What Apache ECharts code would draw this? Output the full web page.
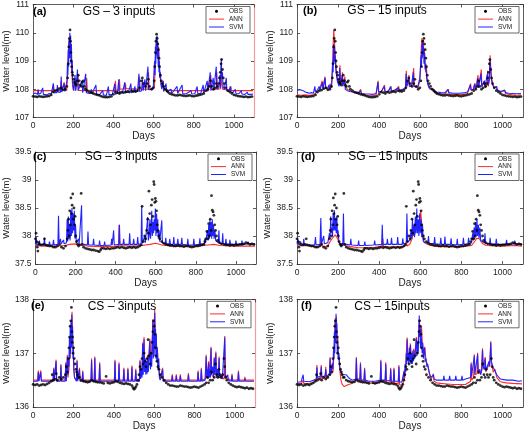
<!DOCTYPE html>
<html><head><meta charset="utf-8">
<script src="https://cdn.jsdelivr.net/npm/echarts@6/dist/echarts.min.js"></script>
<style>html,body{margin:0;padding:0;background:#fff}#c{width:529px;height:432px}</style>
</head><body><div id="c"></div>
<script>
// ---------- data ([day, water level]) ----------
const panelLetters = ['(a)','(b)','(c)','(d)','(e)','(f)'];
const panelTitles = ['GS – 3 inputs','GS – 15 inputs','SG – 3 inputs','SG – 15 inputs','CS – 3inputs','CS – 15inputs'];
const yMins = [107,107,37.5,37.5,136,136];
const yMaxs = [111,111,39.5,39.5,138,138];
const yIntervals = [1,1,0.5,0.5,1,1];
const xTicks = [0,200,400,600,800,1000];
const seriesNames = ['OBS','ANN','SVM'];

const obsGS = [[0,107.75],[10,107.74],[20,107.73],[30,107.75],[40,107.74],[50,107.73],[60,107.74],[70,107.75],[80,107.76],[90,107.8],[100,107.9],[110,107.95],[120,107.97],[130,108.02],[140,108.05],[150,107.98],[160,108.0],[168,108.1],[172,108.4],[175,108.9],[178,109.5],[181,109.8],[184,110.1],[186,109.7],[188,109.3],[190,109.0],[192,108.8],[195,108.6],[198,108.5],[202,108.35],[206,108.25],[210,108.2],[215,108.15],[220,108.3],[225,108.5],[230,108.3],[235,108.15],[240,108.1],[245,108.25],[250,108.3],[255,108.1],[260,108.0],[270,107.95],[280,107.9],[290,107.88],[300,107.85],[310,107.82],[320,107.8],[330,107.78],[340,107.75],[350,107.73],[360,107.72],[370,107.72],[380,107.73],[390,107.75],[400,107.82],[410,107.9],[420,107.88],[430,107.85],[440,107.9],[450,107.88],[460,107.9],[470,107.92],[480,107.9],[490,107.95],[500,107.93],[510,107.92],[520,107.95],[530,108.05],[538,108.3],[544,108.4],[550,108.2],[560,108.1],[568,108.2],[574,108.35],[580,108.1],[590,108.0],[598,108.05],[603,108.3],[606,108.8],[609,109.3],[612,109.7],[615,109.95],[618,109.8],[621,109.6],[624,109.4],[627,109.1],[630,108.8],[634,108.5],[638,108.3],[644,108.2],[650,108.1],[658,108.0],[666,107.95],[672,107.9],[680,107.85],[690,107.82],[700,107.8],[710,107.78],[720,107.78],[730,107.8],[740,107.78],[750,107.77],[760,107.76],[770,107.77],[780,107.78],[790,107.76],[800,107.75],[810,107.77],[820,107.78],[830,107.8],[840,107.82],[850,107.85],[860,107.95],[870,108.0],[878,108.1],[884,108.3],[890,108.1],[898,108.0],[906,108.05],[912,108.2],[918,108.1],[924,108.2],[928,108.4],[932,108.6],[936,108.9],[939,109.05],[943,108.7],[947,108.4],[952,108.2],[960,108.05],[970,107.95],[980,107.9],[990,107.85],[1000,107.8],[1010,107.78],[1020,107.76],[1030,107.75],[1040,107.74],[1050,107.73],[1060,107.74],[1070,107.72],[1080,107.73],[1090,107.74]];

const annGS3 = [[0,107.95],[98,107.95],[101,108.2],[104,107.95],[137,107.95],[140,108.3],[143,107.95],[152,107.95],[155,108.25],[158,107.95],[168,107.97],[172,108.6],[175,109.2],[178,109.7],[181,109.4],[184,109.8],[187,109.1],[190,109.5],[193,108.6],[196,108.2],[200,107.97],[206,107.96],[209,108.4],[212,107.96],[221,107.96],[224,108.5],[227,107.96],[264,107.95],[267,108.4],[270,107.95],[407,107.95],[410,108.3],[413,107.96],[427,107.97],[430,108.35],[433,108.0],[457,108.02],[460,108.2],[463,108.02],[500,108.02],[527,108.0],[530,108.45],[533,108.0],[572,108.0],[575,108.6],[578,108.0],[604,108.05],[607,108.6],[610,109.2],[613,109.6],[616,109.4],[619,109.7],[622,109.2],[625,109.5],[628,108.9],[631,108.6],[635,108.3],[640,108.1],[647,108.3],[650,107.98],[700,107.95],[867,107.95],[870,108.25],[873,107.97],[882,107.97],[885,108.5],[888,107.98],[912,108.0],[915,108.6],[918,108.0],[934,108.02],[937,108.9],[940,108.2],[944,108.0],[982,107.96],[985,108.1],[988,107.95],[1095,107.95]];

const svmGS3 = [[0,107.82],[10,107.87],[16,107.8],[22,107.82],[25,108.0],[28,107.82],[38,107.86],[45,107.82],[48,108.05],[51,107.82],[60,107.86],[70,107.8],[80,107.85],[90,107.82],[98,107.85],[101,108.2],[104,107.88],[112,107.92],[118,107.88],[121,108.15],[124,107.9],[132,107.92],[137,107.9],[140,108.45],[143,107.9],[150,107.95],[155,108.2],[158,107.92],[166,107.95],[169,108.3],[171,108.9],[173,108.5],[175,109.4],[177,108.8],[179,109.8],[181,109.1],[183,110.0],[185,109.3],[187,109.9],[189,108.9],[191,109.6],[193,108.6],[195,109.0],[197,108.3],[199,108.1],[203,107.95],[206,107.92],[209,108.5],[212,107.95],[218,107.92],[221,108.7],[224,107.95],[232,107.9],[244,108.3],[247,107.88],[256,107.9],[262,108.55],[265,107.88],[275,107.86],[285,107.85],[290,108.0],[293,107.83],[300,107.82],[313,108.15],[316,107.82],[330,107.8],[347,107.95],[350,107.8],[365,107.78],[375,108.1],[378,107.8],[395,107.82],[407,108.2],[410,107.82],[420,107.86],[427,108.35],[430,107.85],[445,107.88],[457,108.25],[460,107.88],[475,107.9],[487,108.2],[490,107.88],[500,107.9],[507,108.1],[510,107.9],[520,107.92],[527,108.55],[530,107.92],[540,107.95],[545,108.35],[548,107.95],[557,108.35],[560,107.95],[568,107.95],[572,108.8],[575,107.98],[598,108.0],[602,108.6],[605,109.0],[607,108.5],[609,109.5],[611,108.9],[613,109.85],[615,109.2],[617,109.9],[619,109.1],[621,109.7],[623,108.8],[625,109.4],[627,108.6],[629,109.0],[631,108.4],[634,108.6],[637,108.15],[641,108.0],[647,108.3],[650,107.92],[662,108.2],[665,107.9],[670,107.88],[687,108.0],[690,107.85],[717,108.1],[720,107.85],[742,108.15],[745,107.85],[760,107.83],[787,107.95],[790,107.83],[805,107.84],[817,108.1],[820,107.84],[835,107.86],[847,108.15],[850,107.87],[858,107.9],[867,108.3],[870,107.92],[878,107.95],[882,108.6],[885,107.95],[893,108.0],[897,108.4],[900,107.97],[908,108.0],[912,108.8],[915,108.0],[925,108.05],[930,108.5],[933,108.05],[937,109.1],[940,108.4],[943,108.6],[946,108.1],[952,108.0],[962,108.4],[965,107.95],[975,107.92],[982,108.1],[985,107.9],[995,107.88],[1007,108.0],[1010,107.85],[1025,107.84],[1037,107.95],[1040,107.83],[1055,107.82],[1067,107.9],[1070,107.82],[1085,107.82],[1095,107.83]];

const annGS15 = [[0,107.8],[20,107.79],[40,107.8],[60,107.79],[80,107.8],[90,107.85],[100,107.95],[110,107.98],[118,108.0],[122,108.3],[126,108.05],[132,108.02],[136,108.45],[140,108.05],[150,108.0],[158,108.05],[162,108.2],[166,108.05],[170,108.3],[173,108.9],[176,109.6],[179,110.1],[182,109.7],[185,109.4],[188,109.0],[191,108.7],[195,108.45],[200,108.3],[205,108.2],[209,108.85],[212,108.3],[218,108.2],[221,108.6],[224,108.2],[230,108.15],[233,108.45],[236,108.1],[245,108.0],[255,107.95],[268,107.92],[280,107.88],[295,107.85],[310,108.0],[313,107.83],[330,107.8],[350,107.78],[370,107.77],[385,107.8],[395,108.3],[398,107.88],[410,107.9],[426,108.15],[429,107.9],[445,107.92],[457,108.1],[460,107.92],[480,107.95],[495,108.1],[498,107.95],[515,107.98],[528,108.0],[532,108.65],[535,108.1],[540,108.2],[545,108.5],[548,108.15],[558,108.1],[568,108.75],[571,108.1],[588,108.05],[598,108.3],[602,108.9],[605,109.5],[608,109.8],[611,109.5],[614,109.75],[617,109.3],[620,109.4],[623,108.9],[626,108.6],[630,108.8],[634,108.3],[640,108.1],[648,108.0],[656,107.98],[665,108.0],[668,107.9],[680,107.86],[700,107.84],[720,107.83],[737,108.0],[740,107.83],[760,107.82],[790,107.81],[810,107.82],[830,107.85],[845,108.2],[848,107.95],[858,107.98],[866,108.2],[869,108.0],[877,108.05],[881,108.5],[884,108.05],[893,108.1],[897,108.7],[900,108.1],[908,108.1],[913,108.3],[916,108.05],[925,108.15],[928,108.65],[931,108.1],[936,108.3],[940,109.2],[943,108.8],[947,108.4],[953,108.2],[960,108.05],[972,108.1],[975,107.98],[990,107.9],[1012,107.95],[1015,107.85],[1030,107.82],[1050,107.8],[1070,107.79],[1090,107.8]];

const svmGS15 = [[0,107.97],[8,107.93],[16,107.98],[24,107.92],[30,107.95],[40,107.9],[50,107.88],[60,107.86],[70,107.88],[80,107.86],[87,108.1],[90,107.9],[100,107.98],[108,108.1],[112,107.98],[120,108.0],[124,108.25],[127,108.0],[134,108.05],[137,108.4],[140,108.02],[150,108.05],[156,108.15],[160,108.02],[168,108.1],[171,108.5],[174,109.0],[176,108.6],[178,109.6],[180,108.9],[182,109.55],[184,109.0],[186,109.2],[189,108.7],[192,108.5],[196,108.3],[200,108.2],[205,108.1],[208,108.75],[211,108.15],[217,108.1],[220,108.5],[223,108.1],[232,108.35],[235,108.0],[245,107.95],[258,107.92],[270,107.9],[285,107.88],[300,107.86],[310,107.95],[313,107.85],[330,107.84],[350,107.83],[370,107.82],[385,107.85],[394,108.25],[397,107.9],[410,107.92],[425,108.1],[428,107.9],[445,107.94],[456,108.1],[459,107.93],[478,107.98],[494,108.05],[497,107.96],[515,108.0],[528,108.05],[531,108.55],[534,108.1],[540,108.15],[544,108.4],[547,108.1],[558,108.12],[566,108.6],[569,108.1],[588,108.08],[598,108.4],[601,108.8],[604,109.2],[606,108.8],[608,109.6],[610,109.1],[612,109.7],[614,109.2],[616,109.5],[618,108.9],[621,109.3],[624,108.7],[627,108.9],[631,108.4],[636,108.2],[643,108.05],[652,108.0],[660,107.98],[665,107.95],[680,107.9],[700,107.88],[720,107.87],[735,108.0],[738,107.88],[760,107.86],[790,107.86],[810,107.87],[830,107.9],[844,108.15],[847,107.98],[858,108.0],[865,108.2],[868,108.02],[876,108.1],[880,108.4],[883,108.05],[892,108.1],[896,108.55],[899,108.1],[908,108.12],[912,108.3],[915,108.08],[924,108.15],[927,108.55],[930,108.15],[936,108.35],[939,109.05],[942,108.7],[946,108.35],[952,108.15],[960,108.05],[971,108.1],[974,107.98],[990,107.92],[1011,107.97],[1014,107.88],[1030,107.86],[1050,107.85],[1070,107.84],[1090,107.85]];

const obsSG = [[0,37.95],[3,38.05],[6,37.9],[9,37.8],[12,37.73],[15,37.88],[20,37.85],[30,37.84],[40,37.85],[45,37.95],[50,37.84],[60,37.83],[70,37.82],[80,37.82],[90,37.8],[100,37.8],[110,37.82],[120,37.85],[130,37.8],[140,37.78],[150,37.82],[158,37.95],[162,38.1],[165,38.3],[168,38.0],[171,38.45],[174,38.2],[177,38.68],[180,38.4],[183,38.55],[186,38.75],[189,38.3],[192,38.5],[195,38.2],[198,38.35],[201,38.0],[205,37.9],[210,37.85],[215,37.82],[220,37.84],[228,38.76],[232,37.85],[240,37.8],[250,37.78],[260,37.77],[270,37.76],[280,37.75],[290,37.75],[300,37.74],[310,37.73],[318,37.72],[325,37.75],[330,37.78],[340,37.78],[350,37.77],[360,37.78],[370,37.77],[380,37.78],[390,37.78],[400,37.79],[410,37.8],[420,37.79],[430,37.8],[440,37.79],[450,37.78],[460,37.79],[470,37.8],[480,37.79],[490,37.8],[500,37.79],[510,37.8],[520,37.82],[528,37.84],[532,38.53],[538,37.9],[545,38.0],[550,37.95],[555,38.1],[560,38.3],[563,38.05],[566,38.8],[570,38.4],[574,38.2],[578,38.55],[582,38.65],[586,38.35],[590,38.97],[592,38.92],[595,38.6],[598,38.67],[601,38.62],[604,38.45],[607,38.2],[610,38.1],[615,38.0],[620,37.95],[630,37.9],[640,37.87],[650,37.85],[660,37.84],[670,37.83],[680,37.83],[690,37.82],[700,37.82],[710,37.83],[720,37.82],[730,37.82],[740,37.81],[750,37.82],[760,37.82],[770,37.81],[780,37.8],[790,37.81],[800,37.82],[810,37.82],[820,37.83],[830,37.84],[840,37.85],[845,37.9],[850,37.95],[855,38.08],[860,37.95],[864,38.22],[868,38.0],[872,38.3],[876,38.1],[878,38.72],[882,38.46],[886,38.43],[890,38.37],[894,38.2],[898,38.1],[903,38.0],[908,37.92],[918,37.88],[928,37.86],[940,37.85],[950,37.84],[960,37.84],[970,37.83],[980,37.84],[990,37.83],[1000,37.84],[1010,37.84],[1020,37.85],[1030,37.85],[1040,37.86],[1050,37.88],[1060,37.87],[1070,37.85],[1080,37.86],[1090,37.85]];

const annSG3 = [[0,37.83],[40,37.82],[100,37.82],[150,37.83],[170,37.85],[200,37.86],[225,37.84],[260,37.82],[330,37.81],[414,37.82],[417,38.2],[420,37.83],[480,37.82],[530,37.83],[570,37.85],[600,37.87],[630,37.84],[700,37.82],[800,37.82],[860,37.84],[890,37.85],[920,37.83],[1000,37.82],[1095,37.82]];

const svmSG3 = [[0,37.86],[3,38.0],[6,37.85],[17,37.84],[20,37.92],[23,37.84],[42,37.85],[45,37.97],[48,37.84],[67,37.84],[70,37.9],[73,37.84],[87,37.84],[90,37.93],[93,37.84],[112,37.85],[115,38.36],[118,37.86],[122,37.86],[125,37.95],[128,37.86],[137,37.86],[140,37.93],[143,37.86],[155,37.88],[158,38.3],[161,37.9],[164,38.35],[167,37.95],[170,38.2],[173,37.92],[176,38.45],[179,38.0],[182,38.5],[185,38.05],[188,38.4],[191,38.1],[194,38.45],[197,37.95],[200,38.2],[204,37.88],[212,37.86],[215,37.95],[218,37.86],[227,37.86],[230,38.55],[233,37.86],[259,37.84],[262,38.08],[265,37.84],[287,37.84],[290,37.95],[293,37.84],[317,37.83],[320,37.92],[323,37.83],[342,37.83],[345,37.9],[348,37.83],[377,37.84],[380,37.95],[383,37.84],[387,37.84],[390,38.1],[393,37.84],[416,37.85],[419,38.2],[422,37.85],[437,37.85],[440,37.95],[443,37.85],[467,37.85],[470,38.05],[473,37.85],[487,37.85],[490,37.95],[493,37.85],[507,37.85],[510,37.98],[513,37.85],[527,37.86],[530,38.54],[533,37.87],[542,37.88],[545,38.0],[548,37.88],[555,37.9],[560,38.34],[563,37.92],[567,38.0],[571,38.3],[574,37.95],[577,38.1],[580,38.45],[583,38.0],[586,38.25],[589,38.05],[592,38.3],[595,38.1],[598,38.49],[601,38.0],[604,38.4],[607,38.05],[610,38.3],[613,37.95],[617,38.1],[620,37.9],[627,37.9],[630,38.28],[633,37.88],[647,37.86],[650,37.97],[653,37.86],[667,37.85],[670,37.95],[673,37.85],[687,37.85],[690,37.98],[693,37.85],[707,37.85],[710,37.95],[713,37.85],[727,37.85],[730,37.97],[733,37.85],[757,37.84],[760,37.95],[763,37.84],[787,37.84],[790,37.95],[793,37.84],[817,37.85],[820,37.96],[823,37.85],[842,37.86],[845,37.95],[848,37.87],[855,37.9],[858,38.1],[861,37.92],[864,38.2],[867,37.95],[870,38.3],[873,38.0],[876,38.25],[879,37.95],[882,38.3],[885,38.0],[888,38.2],[891,37.95],[895,38.1],[899,37.92],[912,37.88],[915,38.1],[918,37.87],[931,37.86],[934,38.05],[937,37.86],[947,37.85],[950,37.95],[953,37.85],[967,37.85],[970,37.93],[973,37.85],[997,37.85],[1000,37.92],[1003,37.85],[1027,37.85],[1030,37.92],[1033,37.85],[1057,37.86],[1060,37.9],[1063,37.86],[1095,37.86]];

const annSG15 = [[0,37.84],[10,37.86],[20,37.82],[40,37.83],[60,37.82],[80,37.81],[100,37.8],[115,37.82],[118,37.95],[121,37.82],[140,37.81],[150,37.82],[158,37.88],[165,37.92],[172,37.96],[180,37.98],[186,38.02],[192,38.0],[198,37.95],[204,37.88],[212,37.84],[226,37.87],[232,37.83],[260,37.81],[300,37.79],[330,37.79],[380,37.8],[415,37.82],[418,37.95],[421,37.81],[480,37.8],[520,37.81],[533,37.9],[536,37.82],[550,37.86],[560,37.95],[566,38.1],[572,38.0],[578,38.15],[584,38.1],[590,38.2],[594,38.1],[598,38.3],[602,38.46],[605,38.3],[608,38.2],[612,38.0],[618,37.9],[630,37.86],[650,37.83],[700,37.81],[800,37.81],[850,37.83],[860,37.88],[868,37.92],[874,37.96],[880,37.98],[888,37.95],[896,37.9],[905,37.86],[920,37.83],[1000,37.82],[1060,37.83],[1095,37.82]];

const svmSG15 = [[0,37.86],[4,37.95],[8,37.84],[30,37.84],[33,37.95],[36,37.84],[60,37.84],[66,37.85],[86,37.84],[90,37.98],[93,37.84],[112,37.85],[116,38.32],[119,37.86],[127,37.86],[130,38.0],[133,37.86],[150,37.88],[158,38.05],[161,37.95],[164,38.35],[167,38.05],[170,38.15],[173,38.0],[176,38.4],[179,38.1],[182,38.46],[185,38.1],[188,38.3],[191,38.05],[194,38.35],[197,38.0],[200,38.1],[204,37.9],[212,37.86],[223,37.86],[226,38.4],[229,37.86],[259,37.84],[262,37.95],[265,37.84],[297,37.83],[300,37.92],[303,37.83],[327,37.83],[330,37.9],[333,37.83],[375,37.84],[378,37.92],[381,37.84],[412,37.85],[415,38.2],[418,37.85],[437,37.85],[440,37.95],[443,37.85],[457,37.85],[460,37.97],[463,37.85],[487,37.85],[490,37.98],[493,37.85],[512,37.85],[515,37.96],[518,37.86],[532,37.87],[535,38.4],[538,37.9],[550,37.92],[555,38.1],[558,37.95],[562,38.3],[565,38.0],[569,38.2],[572,37.98],[576,38.35],[579,38.05],[583,38.49],[586,38.05],[590,38.3],[593,38.0],[597,38.4],[600,38.05],[604,38.3],[607,37.98],[611,38.2],[614,37.92],[620,37.88],[637,37.88],[640,38.0],[643,37.87],[667,37.86],[670,37.98],[673,37.86],[697,37.85],[700,37.97],[703,37.85],[717,37.85],[720,37.99],[723,37.85],[747,37.85],[750,37.96],[753,37.85],[777,37.84],[780,37.95],[783,37.84],[807,37.85],[810,37.97],[813,37.85],[832,37.86],[835,37.97],[838,37.86],[850,37.88],[855,38.05],[858,37.92],[862,38.15],[865,37.95],[869,38.25],[872,38.0],[876,38.3],[879,38.0],[883,38.2],[886,37.96],[890,38.15],[894,37.92],[900,37.9],[912,37.88],[915,38.05],[918,37.87],[937,37.86],[940,37.97],[943,37.86],[967,37.85],[970,37.95],[973,37.85],[1017,37.85],[1020,37.93],[1023,37.85],[1057,37.86],[1060,37.92],[1063,37.86],[1095,37.85]];

const obsCS = [[0,136.42],[10,136.41],[20,136.42],[30,136.4],[40,136.41],[50,136.42],[60,136.41],[70,136.43],[80,136.45],[90,136.48],[95,136.6],[100,136.5],[110,136.52],[115,136.62],[120,136.5],[130,136.55],[140,136.52],[150,136.55],[160,136.6],[165,136.75],[170,136.65],[175,136.9],[178,137.1],[181,137.3],[184,137.5],[187,137.6],[190,137.85],[192,137.4],[194,137.2],[196,137.3],[198,137.0],[201,137.1],[204,136.9],[208,136.8],[212,136.7],[216,136.65],[220,136.6],[225,136.55],[230,136.55],[240,136.5],[250,136.48],[260,136.47],[270,136.46],[280,136.47],[290,136.5],[300,136.48],[310,136.47],[320,136.46],[330,136.46],[340,136.45],[350,136.44],[362,136.57],[370,136.45],[380,136.44],[390,136.45],[400,136.46],[410,136.48],[420,136.47],[430,136.45],[440,136.44],[450,136.43],[460,136.44],[470,136.43],[480,136.42],[490,136.4],[495,136.36],[500,136.33],[505,136.35],[510,136.38],[515,136.42],[520,136.5],[525,136.6],[530,136.75],[535,136.7],[540,136.9],[545,136.8],[550,137.0],[555,136.85],[560,136.75],[565,136.9],[570,137.25],[575,136.95],[580,136.8],[585,137.0],[590,137.2],[594,137.4],[597,137.6],[600,137.5],[603,137.35],[606,137.1],[609,136.95],[614,136.85],[619,136.75],[624,136.7],[630,136.6],[640,136.55],[650,136.5],[660,136.45],[670,136.42],[680,136.4],[690,136.4],[700,136.39],[710,136.38],[720,136.38],[730,136.4],[740,136.39],[750,136.38],[760,136.38],[770,136.37],[780,136.36],[790,136.37],[800,136.38],[810,136.37],[820,136.36],[830,136.38],[840,136.4],[850,136.42],[858,136.45],[864,136.55],[870,136.45],[878,136.5],[884,136.65],[890,136.5],[898,136.55],[904,136.8],[910,136.6],[916,136.55],[921,136.7],[926,136.6],[932,136.55],[940,136.6],[946,136.9],[950,136.75],[955,136.55],[960,136.5],[970,136.45],[980,136.42],[990,136.4],[1000,136.38],[1010,136.37],[1020,136.38],[1030,136.37],[1040,136.36],[1050,136.35],[1060,136.36],[1070,136.34],[1080,136.35],[1090,136.34]];

const annCS3 = [[0,136.5],[23,136.5],[26,136.68],[29,136.5],[35,136.5],[38,136.68],[41,136.5],[99,136.5],[102,136.73],[105,136.5],[111,136.5],[114,136.88],[117,136.5],[135,136.5],[138,136.8],[141,136.5],[159,136.5],[162,136.83],[165,136.5],[167,136.5],[170,136.97],[173,136.55],[178,136.7],[181,137.2],[184,136.9],[187,137.5],[190,137.2],[193,137.77],[196,137.3],[199,137.0],[202,136.7],[206,136.55],[215,136.5],[218,136.88],[221,136.5],[227,136.5],[230,136.73],[233,136.5],[243,136.5],[246,136.68],[249,136.5],[287,136.5],[290,136.9],[293,136.5],[303,136.5],[306,136.94],[309,136.5],[327,136.5],[330,136.83],[333,136.5],[403,136.5],[406,136.88],[409,136.5],[423,136.5],[426,136.83],[429,136.5],[447,136.5],[450,136.73],[453,136.5],[467,136.5],[470,136.73],[473,136.5],[487,136.5],[490,136.77],[493,136.5],[506,136.5],[509,136.71],[512,136.5],[527,136.5],[530,136.88],[533,136.55],[540,136.6],[543,137.2],[546,136.7],[550,137.3],[553,136.75],[558,136.8],[562,136.7],[567,136.97],[570,136.78],[575,136.8],[579,137.27],[582,136.8],[587,136.9],[591,137.3],[594,137.63],[597,137.0],[600,137.4],[603,137.82],[606,137.2],[609,137.38],[612,137.0],[616,137.12],[620,136.8],[626,136.6],[630,136.52],[639,136.5],[642,136.73],[645,136.5],[687,136.5],[690,136.61],[693,136.5],[707,136.5],[710,136.61],[713,136.5],[727,136.5],[730,136.61],[733,136.5],[767,136.5],[770,136.63],[773,136.5],[815,136.5],[818,136.68],[821,136.5],[831,136.5],[834,136.73],[837,136.5],[855,136.52],[858,136.97],[861,136.55],[867,136.55],[870,136.85],[873,136.55],[879,136.55],[882,137.12],[885,136.6],[895,136.55],[898,136.93],[901,136.6],[903,136.6],[906,137.03],[909,136.55],[919,136.55],[922,136.94],[925,136.55],[947,136.52],[950,137.32],[953,136.55],[983,136.5],[986,136.62],[989,136.5],[1015,136.5],[1018,136.68],[1021,136.5],[1047,136.5],[1050,136.56],[1053,136.5],[1095,136.5]];

const svmCS3 = [[0,136.48],[23,136.48],[26,136.65],[29,136.48],[35,136.48],[38,136.65],[41,136.48],[99,136.48],[102,136.7],[105,136.48],[111,136.48],[114,136.85],[117,136.48],[135,136.48],[138,136.77],[141,136.48],[159,136.48],[162,136.8],[165,136.48],[167,136.48],[170,136.94],[172,136.6],[175,136.9],[178,136.75],[180,137.3],[182,136.9],[184,137.5],[186,137.0],[188,137.6],[190,137.1],[192,137.72],[194,137.2],[196,137.5],[198,136.9],[200,137.1],[202,136.7],[205,136.55],[215,136.48],[218,136.85],[221,136.48],[227,136.48],[230,136.7],[233,136.48],[243,136.48],[246,136.65],[249,136.48],[287,136.48],[290,136.87],[293,136.48],[303,136.48],[306,136.91],[309,136.48],[327,136.48],[330,136.8],[333,136.48],[403,136.48],[406,136.85],[409,136.48],[423,136.48],[426,136.8],[429,136.48],[447,136.48],[450,136.7],[453,136.48],[467,136.48],[470,136.7],[473,136.48],[487,136.48],[490,136.74],[493,136.48],[506,136.48],[509,136.68],[512,136.48],[527,136.48],[530,136.85],[533,136.52],[537,136.7],[540,136.55],[543,137.17],[546,136.6],[550,137.26],[553,136.65],[556,136.9],[559,136.6],[562,136.85],[565,136.62],[568,136.94],[571,136.65],[575,136.9],[579,137.23],[582,136.7],[585,137.0],[588,136.75],[591,137.25],[594,137.6],[596,136.9],[598,137.3],[600,136.95],[603,137.75],[605,137.1],[607,137.45],[609,136.9],[611,137.35],[613,136.85],[616,137.09],[619,136.7],[623,136.9],[626,136.55],[630,136.5],[639,136.48],[642,136.7],[645,136.48],[687,136.48],[690,136.58],[693,136.48],[707,136.48],[710,136.58],[713,136.48],[727,136.48],[730,136.58],[733,136.48],[767,136.48],[770,136.6],[773,136.48],[815,136.48],[818,136.65],[821,136.48],[831,136.48],[834,136.7],[837,136.48],[852,136.5],[855,136.7],[858,136.94],[861,136.55],[864,136.7],[867,136.52],[870,136.82],[873,136.55],[876,136.7],[879,136.55],[882,137.09],[885,136.6],[890,136.75],[894,136.55],[898,136.9],[901,136.6],[903,136.62],[906,137.0],[909,136.55],[914,136.7],[918,136.55],[922,136.91],[925,136.55],[935,136.6],[938,136.52],[947,136.52],[950,137.29],[953,136.55],[965,136.6],[968,136.5],[983,136.48],[986,136.59],[989,136.48],[1015,136.48],[1018,136.65],[1021,136.48],[1047,136.48],[1050,136.53],[1053,136.48],[1095,136.48]];

const annCS15 = [[0,136.44],[20,136.43],[30,136.5],[33,136.44],[60,136.43],[80,136.46],[94,136.5],[97,136.78],[100,136.52],[115,136.55],[118,136.78],[121,136.52],[137,136.55],[140,136.75],[143,136.52],[150,136.5],[158,136.6],[161,136.93],[164,136.6],[170,136.62],[172,136.82],[175,136.65],[180,137.0],[183,137.3],[186,137.65],[189,137.5],[192,137.68],[195,137.2],[198,137.3],[201,137.0],[204,136.9],[208,136.7],[214,136.5],[220,136.42],[230,136.38],[240,136.4],[250,136.42],[260,136.43],[270,136.45],[286,136.5],[289,136.93],[292,136.5],[306,136.5],[309,136.83],[312,136.48],[326,136.48],[329,136.73],[332,136.47],[350,136.45],[380,136.44],[405,136.47],[408,136.88],[411,136.47],[429,136.47],[432,136.83],[435,136.46],[453,136.46],[456,136.73],[459,136.45],[469,136.45],[472,136.73],[475,136.44],[493,136.44],[496,136.78],[499,136.42],[510,136.4],[517,136.45],[520,136.68],[523,136.5],[528,136.7],[532,137.0],[536,137.29],[540,137.0],[546,136.9],[552,137.18],[556,136.95],[562,136.9],[568,137.08],[574,136.95],[581,137.3],[585,137.0],[591,137.3],[595,137.62],[598,137.45],[602,137.3],[606,137.5],[610,137.2],[616,137.0],[622,137.12],[628,136.85],[634,136.8],[640,136.82],[646,136.6],[652,136.5],[664,136.62],[667,136.48],[680,136.45],[700,136.44],[730,136.43],[760,136.42],[790,136.42],[820,136.42],[845,136.48],[848,136.83],[851,136.5],[860,136.55],[863,136.98],[866,136.6],[876,136.62],[879,137.01],[882,136.62],[897,136.65],[903,137.09],[906,136.7],[913,136.7],[916,136.93],[919,136.65],[928,136.65],[935,136.8],[940,136.9],[943,137.22],[946,136.85],[955,136.65],[964,136.7],[967,136.73],[972,136.55],[990,136.47],[1020,136.45],[1050,136.44],[1095,136.43]];

const svmCS15 = [[0,136.46],[20,136.47],[30,136.6],[33,136.48],[60,136.47],[80,136.5],[94,136.52],[97,136.74],[100,136.55],[115,136.58],[118,136.75],[121,136.56],[137,136.58],[140,136.7],[143,136.56],[150,136.55],[158,136.62],[161,136.9],[164,136.62],[170,136.65],[172,136.8],[175,136.7],[178,137.1],[180,136.9],[182,137.4],[184,137.0],[186,137.6],[188,137.2],[190,137.73],[192,137.3],[194,137.55],[196,137.0],[198,137.25],[200,136.9],[204,137.0],[208,136.75],[212,136.68],[220,136.6],[230,136.6],[240,136.6],[250,136.55],[260,136.52],[270,136.5],[286,136.52],[289,136.9],[292,136.52],[306,136.52],[309,136.8],[312,136.5],[326,136.5],[329,136.7],[332,136.5],[350,136.48],[380,136.48],[405,136.5],[408,136.85],[411,136.5],[429,136.5],[432,136.8],[435,136.49],[453,136.49],[456,136.7],[459,136.48],[469,136.48],[472,136.7],[475,136.48],[493,136.48],[496,136.75],[499,136.47],[510,136.46],[517,136.48],[520,136.65],[523,136.55],[526,136.8],[529,136.65],[532,137.0],[534,136.8],[536,137.26],[538,136.85],[541,137.0],[544,136.8],[547,137.1],[550,136.85],[552,137.15],[555,136.8],[558,137.0],[561,136.8],[564,137.05],[567,136.85],[570,137.0],[573,136.9],[577,137.1],[581,137.27],[584,136.95],[587,137.2],[590,137.0],[593,137.4],[595,137.7],[597,137.3],[599,137.5],[601,137.1],[603,137.45],[606,137.47],[609,137.0],[612,137.2],[615,136.9],[618,137.05],[621,137.1],[624,136.85],[628,136.9],[632,136.75],[636,136.8],[640,136.8],[645,136.62],[652,136.55],[661,136.55],[664,136.6],[667,136.52],[680,136.5],[700,136.5],[712,136.5],[715,136.58],[718,136.5],[740,136.5],[743,136.58],[746,136.5],[770,136.5],[773,136.58],[776,136.5],[800,136.5],[803,136.58],[806,136.5],[820,136.52],[845,136.55],[847,136.8],[850,136.58],[856,136.6],[863,136.95],[866,136.62],[872,136.65],[879,136.98],[882,136.65],[890,136.7],[894,136.6],[900,136.7],[903,137.06],[906,136.75],[913,136.7],[916,136.9],[919,136.68],[928,136.7],[935,136.85],[938,136.75],[943,137.2],[946,136.85],[952,136.75],[960,136.7],[967,136.7],[972,136.6],[990,136.52],[1020,136.5],[1050,136.5],[1080,136.48],[1095,136.49]];

// ---------- layout ----------
const obsSets = [obsGS, obsGS, obsSG, obsSG, obsCS, obsCS];
const annSets = [annGS3, annGS15, annSG3, annSG15, annCS3, annCS15];
const svmSets = [svmGS3, svmGS15, svmSG3, svmSG15, svmCS3, svmCS15];

const layout = [
  {left:28, top:4.5, width:226, height:113, titleDy:7, letterDx:5, titleCx:119, redRight:true},
  {left:297, top:4.5, width:226, height:113, titleDy:6, letterDx:6, titleCx:387},
  {left:30, top:152, width:226, height:112, titleDy:4.5, letterDx:3, titleCx:121},
  {left:297, top:152, width:226, height:112, titleDy:5, letterDx:4, titleCx:388},
  {left:28, top:299.3, width:227, height:114, titleDy:7, letterDx:3, titleCx:122, redRight:true},
  {left:297, top:299.3, width:226, height:114, titleDy:7, letterDx:4, titleCx:392}
];

const FONT = '"Liberation Sans", Arial, Helvetica, sans-serif';
const AX = '#333';
const RED = '#ff2b2b';
const BLUE = '#2222ff';

const grids = [], xAxes = [], yAxes = [], series = [], graphics = [];

layout.forEach((L, i) => {
  grids.push({left:L.left, top:L.top, width:L.width, height:L.height, containLabel:false});
  const tick = {show:true, inside:true, length:3, lineStyle:{color:AX, width:0.8}};
  xAxes.push({
    type:'value', gridIndex:i, min:0, max:1100, interval:200, position:'bottom',
    axisLine:{show:true, onZero:false, lineStyle:{color:AX, width:0.8}},
    axisTick:tick, splitLine:{show:false},
    axisLabel:{show:true, fontSize:8.5, color:'#222', fontFamily:FONT, margin:4, showMaxLabel:false,
      formatter: v => xTicks.indexOf(v) >= 0 ? String(v) : ''},
    name:'Days', nameLocation:'middle', nameGap:7.5,
    nameTextStyle:{fontSize:10, color:'#222', fontFamily:FONT}
  });
  xAxes.push({
    type:'value', gridIndex:i, min:0, max:1100, interval:200, position:'top',
    axisLine:{show:true, onZero:false, lineStyle:{color:AX, width:0.8}},
    axisTick:tick, axisLabel:{show:false}, splitLine:{show:false}
  });
  yAxes.push({
    type:'value', gridIndex:i, min:yMins[i], max:yMaxs[i], interval:yIntervals[i], position:'left',
    axisLine:{show:true, onZero:false, lineStyle:{color:AX, width:0.8}},
    axisTick:tick, splitLine:{show:false},
    axisLabel:{show:true, fontSize:8.5, color:'#222', fontFamily:FONT, margin:4},
    name:'Water level(m)', nameLocation:'middle', nameGap:17, nameRotate:90,
    nameTextStyle:{fontSize:9.5, color:'#222', fontFamily:FONT}
  });
  yAxes.push({
    type:'value', gridIndex:i, min:yMins[i], max:yMaxs[i], interval:yIntervals[i], position:'right',
    axisLine:{show:true, onZero:false, lineStyle:{color: L.redRight ? '#f49a9a' : AX, width: L.redRight ? 1.2 : 0.8}},
    axisTick:tick, axisLabel:{show:false}, splitLine:{show:false}
  });
  const xi = i*2, yi = i*2;
  series.push({name:'ANN', type:'line', xAxisIndex:xi, yAxisIndex:yi, data:annSets[i],
    symbol:'none', lineStyle:{color:RED, width:1.1}, itemStyle:{color:RED}, z:2, silent:true, animation:false});
  series.push({name:'SVM', type:'line', xAxisIndex:xi, yAxisIndex:yi, data:svmSets[i],
    symbol:'none', lineStyle:{color:BLUE, width:1.1}, itemStyle:{color:BLUE}, z:3, silent:true, animation:false});
  series.push({name:'OBS', type:'scatter', xAxisIndex:xi, yAxisIndex:yi, data:obsSets[i],
    symbol:'circle', symbolSize:2.8, itemStyle:{color:'#000'}, z:4, silent:true, animation:false});

  const ty = L.top + L.titleDy;
  graphics.push({type:'text', z:100, style:{text:panelLetters[i], x:L.left + L.letterDx, y:ty,
    font:'bold 11px ' + FONT, fill:'#000', textAlign:'left', textVerticalAlign:'middle', align:'left', verticalAlign:'middle'}});
  graphics.push({type:'text', z:100, style:{text:panelTitles[i], x:L.titleCx, y:ty,
    font:'12px ' + FONT, fill:'#000', textAlign:'center', textVerticalAlign:'middle', align:'center', verticalAlign:'middle'}});

  const bw = 44, bh = 26.5;
  const bx = L.left + L.width - 4 - bw, by = L.top + 2;
  graphics.push({type:'rect', z:100, shape:{x:bx, y:by, width:bw, height:bh},
    style:{fill:'#fff', stroke:'#444', lineWidth:0.8}});
  const rows = [by + 4.8, by + 12.6, by + 20.5];
  graphics.push({type:'circle', z:101, shape:{cx:bx + 10.5, cy:rows[0], r:1.5}, style:{fill:'#000'}});
  graphics.push({type:'line', z:101, shape:{x1:bx + 3, y1:rows[1], x2:bx + 18, y2:rows[1]}, style:{stroke:RED, lineWidth:1}});
  graphics.push({type:'line', z:101, shape:{x1:bx + 3, y1:rows[2], x2:bx + 18, y2:rows[2]}, style:{stroke:BLUE, lineWidth:1}});
  seriesNames.forEach((n, k) => {
    graphics.push({type:'text', z:101, style:{text:n, x:bx + 23, y:rows[k],
      font:'6.5px ' + FONT, fill:'#222', textAlign:'left', textVerticalAlign:'middle', align:'left', verticalAlign:'middle'}});
  });
});

const chart = echarts.init(document.getElementById('c'), null, {renderer:'canvas'});
chart.setOption({
  animation:false,
  backgroundColor:'#fff',
  textStyle:{fontFamily:FONT},
  grid:grids, xAxis:xAxes, yAxis:yAxes, series:series, graphic:graphics
});
</script>
</body></html>
